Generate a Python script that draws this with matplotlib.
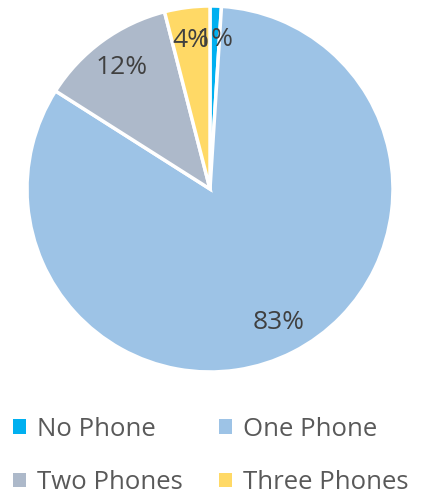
import matplotlib.pyplot as plt
from matplotlib.patches import Patch

# Phone ownership shares
labels = ["No Phone", "One Phone", "Two Phones", "Three Phones"]
shares = [1, 83, 12, 4]
colors = ["#00B0F0", "#9DC3E6", "#ADB9CA", "#FFD966"]

plt.rcParams['font.family'] = ['Open Sans', 'DejaVu Sans']

fig = plt.figure(figsize=(4.28, 4.98), dpi=100)
ax = fig.add_axes([27 / 428, 1 - 372 / 498, 366 / 428, 366 / 498])

wedges, texts, autotexts = ax.pie(
    shares, colors=colors, startangle=90, counterclock=False,
    autopct='%1.0f%%', pctdistance=0.82,
    wedgeprops=dict(edgecolor='white', linewidth=2.5),
    textprops=dict(fontsize=19, color='#404040'))
ax.set_xlim(-1.0, 1.0)
ax.set_ylim(-1.0, 1.0)
ax.set_aspect('equal')

# legend filled row by row: No / One, then Two / Three
order = [0, 2, 1, 3]
handles = [Patch(facecolor=colors[i], edgecolor='none') for i in order]
fig.legend(handles, [labels[i] for i in order], loc='lower left',
           bbox_to_anchor=(0.0, -0.02), ncol=2, borderpad=0.0,
           frameon=False, fontsize=18.5, labelcolor='#595959',
           handlelength=0.5, handleheight=0.5, handletextpad=0.45,
           columnspacing=1.4, labelspacing=1.1)

fig.savefig("out.png", dpi=100)
